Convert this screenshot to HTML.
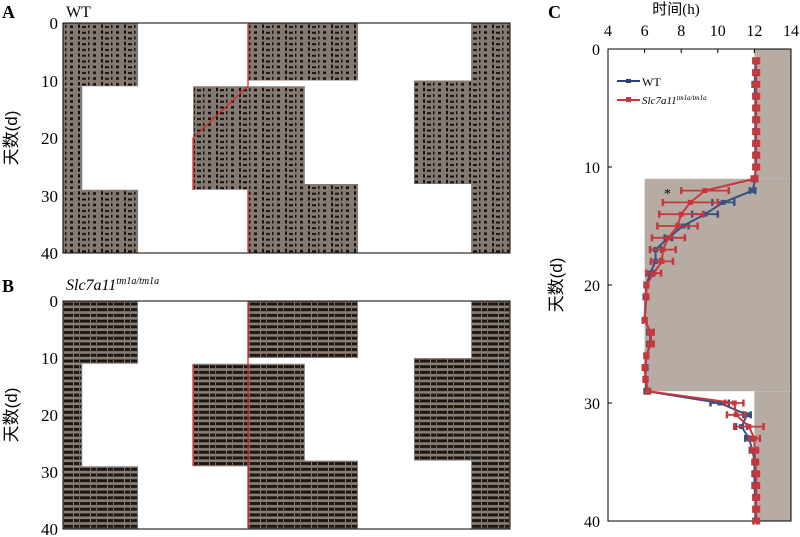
<!DOCTYPE html>
<html><head><meta charset="utf-8"><style>
html,body{margin:0;padding:0;background:#fff;}
svg{display:block;font-family:"Liberation Serif","Noto Serif CJK SC",serif;}
</style></head><body>
<svg id="fig" width="800" height="537" viewBox="0 0 800 537">
<defs>
<pattern id="actA" width="23" height="5.75" patternUnits="userSpaceOnUse" y="23">
<rect x="1" y="2.5" width="3" height="2.5" fill="#111"/><rect x="9" y="1.5" width="2" height="3.5" fill="#111"/><rect x="13" y="3" width="4" height="2" fill="#111"/><rect x="19" y="2" width="1.5" height="3" fill="#111"/>
</pattern>
<pattern id="actB" width="17" height="5.7" patternUnits="userSpaceOnUse" y="301">
<rect x="0" y="1.5" width="17" height="3" fill="#1a1613"/><rect x="5" y="1.5" width="1" height="3" fill="#8a7e75"/><rect x="11" y="2" width="1" height="2" fill="#8a7e75"/>
</pattern>
</defs>

<g>
<text x="2" y="18" font-size="18" font-weight="bold">A</text>
<text x="66" y="17" font-size="16">WT</text>
<g id="shadeA"></g>
<rect x="63" y="23" width="447" height="230" fill="none" stroke="#000" stroke-width="1"/>
<polyline points="248,23 248,86 193,138 193,190" fill="none" stroke="#d22" stroke-width="1.2"/>
<line x1="248" y1="190" x2="248" y2="253" stroke="#d22" stroke-width="1.2"/>
<g font-size="17" text-anchor="end">
<text x="58" y="29">0</text><text x="58" y="87">10</text><text x="58" y="144">20</text><text x="58" y="202">30</text><text x="58" y="259">40</text></g>
<text transform="translate(17,138) rotate(-90)" font-size="17" text-anchor="middle" font-family="Liberation Sans, Noto Sans CJK SC, sans-serif">天数(d)</text>
</g>

<g>
<text x="2" y="292" font-size="18" font-weight="bold">B</text>
<text x="66" y="290" font-size="16" font-style="italic">Slc7a11<tspan font-size="10" dy="-6">tm1a/tm1a</tspan></text>
<g id="shadeB"></g>
<rect x="63" y="301" width="447" height="228" fill="none" stroke="#000" stroke-width="1"/>
<line x1="248" y1="301" x2="248" y2="529" stroke="#d22" stroke-width="1.2"/>
<line x1="193" y1="364" x2="193" y2="466" stroke="#d22" stroke-width="1.2"/>
<g font-size="17" text-anchor="end">
<text x="58" y="307">0</text><text x="58" y="364">10</text><text x="58" y="421">20</text><text x="58" y="478">30</text><text x="58" y="535">40</text></g>
<text transform="translate(17,415) rotate(-90)" font-size="17" text-anchor="middle" font-family="Liberation Sans, Noto Sans CJK SC, sans-serif">天数(d)</text>
</g>

<g>
<text x="548" y="18" font-size="18" font-weight="bold">C</text>
<text x="676" y="14" font-size="15" text-anchor="middle" font-family="Liberation Serif, Noto Sans CJK SC, serif">时间(h)</text>
<g id="chartC"></g>
<text transform="translate(562,285) rotate(-90)" font-size="17" text-anchor="middle" font-family="Liberation Sans, Noto Sans CJK SC, sans-serif">天数(d)</text>
<g>
<line x1="617" y1="81" x2="640" y2="81" stroke="#2c3e7a" stroke-width="2"/>
<rect x="626" y="79" width="5" height="4" fill="#2c3e7a"/>
<text x="642" y="86" font-size="12">WT</text>
<line x1="617" y1="100" x2="640" y2="100" stroke="#c8373b" stroke-width="2"/>
<rect x="626" y="97" width="5" height="5" fill="#c8373b"/>
<text x="642" y="104" font-size="11" font-style="italic">Slc7a11<tspan font-size="7" dy="-4">tm1a/tm1a</tspan></text>
</g>
<text x="664" y="198" font-size="14">*</text>
</g>
</svg>
<script>
const darkBlocksX0=[0,0.413,0.913,0.785,0,0.291,0,0.413,0.913];
const darkBlocksX1=[0.168,0.66,1,1,0.043,0.541,0.168,0.66,1];
const darkBlocksD0=[0,0,0,10,11,11,29,28,28];
const darkBlocksD1=[11,10,10,28,29,29,40,40,40];
const days=[1,2,3,4,5,6,7,8,9,10,11,12,13,14,15,16,17,18,19,20,21,23,24,25,26,27,28,29,30,31,32,33,34,35,36,37,38,39,40];
const wtVals=[12.05,12.05,12.0,12.05,12.05,12.05,12.05,12.05,12.05,12.05,12.05,11.9,10.3,9.3,8.1,7.3,6.6,6.6,6.3,6.1,6.05,6.0,6.3,6.3,6.1,6.05,6.05,6.1,10.1,11.6,11.3,11.7,11.9,12.0,12.0,12.0,12.05,12.05,12.05];
const wtErr=[0.1,0.1,0.1,0.1,0.1,0.1,0.1,0.1,0.1,0.1,0.1,0.15,0.6,0.7,0.3,0.2,0.3,0.25,0.2,0.1,0.1,0.1,0.15,0.15,0.1,0.1,0.1,0.1,0.5,0.2,0.3,0.2,0.15,0.1,0.1,0.1,0.1,0.1,0.1];
const koVals=[12.1,12.1,12.1,12.1,12.1,12.1,12.1,12.1,12.1,12.1,12.0,9.3,8.5,8.0,7.8,7.3,7.0,6.95,6.5,6.1,6.1,6.0,6.35,6.35,6.1,6.0,6.05,6.2,10.9,11.0,11.7,12.0,12.0,12.05,12.1,12.1,12.1,12.1,12.1];
const koErr=[0.15,0.15,0.15,0.15,0.15,0.15,0.15,0.15,0.15,0.15,0.15,1.3,1.5,1.2,1.1,0.9,0.7,0.6,0.4,0.1,0.1,0.1,0.15,0.15,0.1,0.1,0.1,0.1,0.5,0.5,0.8,0.3,0.2,0.15,0.15,0.15,0.15,0.15,0.15];
const xTicks=[4,6,8,10,12,14];
const yTicks=[0,10,20,30,40];
const bgX0=[12,6,12], bgD0=[0,11,29], bgD1=[11,29,40];

const NS="http://www.w3.org/2000/svg";
function mk(tag,attrs,parent){const e=document.createElementNS(NS,tag);for(const k in attrs)e.setAttribute(k,attrs[k]);parent.appendChild(e);return e;}
function drawShade(gid,top,h,pat,col,name){
 const g=document.getElementById(gid);
 const sx=f=>63+f*447, sy=d=>top+d*h/40;
 for(let i=0;i<darkBlocksX0.length;i++){
  const x=sx(darkBlocksX0[i]),y=sy(darkBlocksD0[i]),w=sx(darkBlocksX1[i])-x,hh=sy(darkBlocksD1[i])-y;
  const r=mk('rect',{x:x,y:y,width:w,height:hh,fill:col},g);
  
  
  const a=mk('rect',{x:x+1,y:y,width:w-2,height:hh,fill:'url(#'+pat+')'},g);
  
  
 }
}
drawShade('shadeA',23,230,'actA','#857a72','panel-a');
drawShade('shadeB',301,228,'actB','#8a7e75','panel-b');

const cx=h=>608+(h-4)*183/10, cy=d=>49+d*(521-49)/40;
const gc=document.getElementById('chartC');
for(let i=0;i<bgX0.length;i++){
 const r=mk('rect',{x:cx(bgX0[i]),y:cy(bgD0[i]),width:cx(14)-cx(bgX0[i]),height:cy(bgD1[i])-cy(bgD0[i]),fill:'#b6aca4'},gc);
 
 
}
const fr=mk('rect',{x:608,y:49,width:183,height:472,fill:'none',stroke:'#000','stroke-width':1},gc);


xTicks.forEach(t=>{
 const tx=mk('text',{x:cx(t),y:36,'font-size':16,'text-anchor':'middle'},gc);tx.textContent=t;
 
 
 mk('line',{x1:cx(t),y1:49,x2:cx(t),y2:53,stroke:'#000'},gc);
});
yTicks.forEach(t=>{
 const tx=mk('text',{x:600,y:cy(t)+6,'font-size':16,'text-anchor':'end'},gc);tx.textContent=t;
 
 
 mk('line',{x1:608,y1:cy(t),x2:612,y2:cy(t),stroke:'#000'},gc);
});
function series(vals,err,col,name){
 const g=mk('g',{},gc);
 
 
 const pts=days.map((d,i)=>cx(vals[i])+','+cy(d)).join(' ');
 const pl=mk('polyline',{points:pts,fill:'none',stroke:col,'stroke-width':2},g);
 
 
 days.forEach((d,i)=>{
  const y=cy(d),x0=cx(vals[i]-err[i]),x1=cx(vals[i]+err[i]);
  const e=mk('g',{},g);
  
  
  mk('line',{x1:x0,y1:y,x2:x1,y2:y,stroke:col,'stroke-width':1.8},e);
  mk('line',{x1:x0,y1:y-3.5,x2:x0,y2:y+3.5,stroke:col,'stroke-width':2.5},e);
  mk('line',{x1:x1,y1:y-3.5,x2:x1,y2:y+3.5,stroke:col,'stroke-width':2.5},e);
  const p=mk('rect',{x:cx(vals[i])-2.5,y:y-2.5,width:5,height:5,fill:col},g);
  
  
 });
}
series(wtVals,wtErr,'#3a5282','wt');
series(koVals,koErr,'#c8373b','ko');
</script>
</body></html>
